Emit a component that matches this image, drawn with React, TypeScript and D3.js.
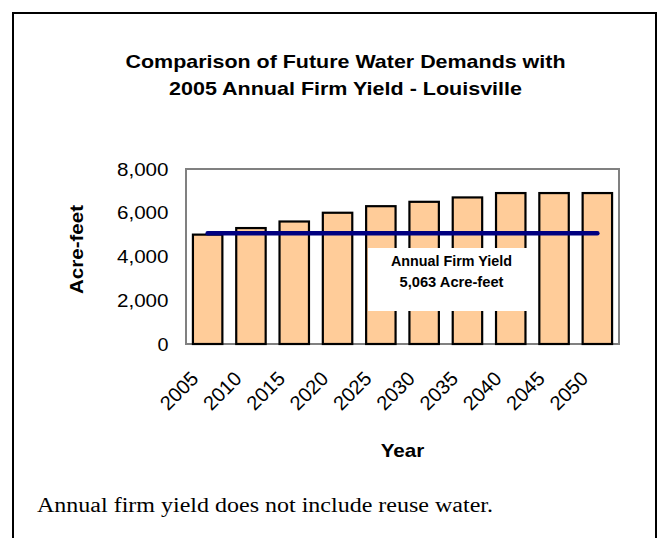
import React from "react";
import * as d3 from "d3";

const years = ["2005", "2010", "2015", "2020", "2025", "2030", "2035", "2040", "2045", "2050"];
const demands = [5000, 5300, 5600, 6000, 6300, 6500, 6700, 6900, 6900, 6900];
const firmYield = 5063;
const yTicks = [0, 2000, 4000, 6000, 8000];
const titleLines = ["Comparison of Future Water Demands with", "2005 Annual Firm Yield - Louisville"];
const yieldLabel = ["Annual Firm Yield", "5,063 Acre-feet"];
const footnote = "Annual firm yield does not include reuse water.";

export default function App() {
  const W = 659, H = 538;
  const plot = { left: 186, right: 619, top: 169, bottom: 344 };
  const x = d3.scaleBand<string>().domain(years).range([plot.left, plot.right]).paddingInner(0.32).paddingOuter(0.16);
  const y = d3.scaleLinear().domain([0, 8000]).range([plot.bottom, plot.top]);
  const fmt = d3.format(",");
  const lineGen = d3.line<string>().x((d) => (x(d) as number) + x.bandwidth() / 2).y(() => y(firmYield));
  const arial = "'Liberation Sans', Arial, sans-serif";
  return (
    <svg width={W} height={H} style={{ position: "absolute", left: 0, top: 0, background: "#fff" }}>
      <rect x={0} y={0} width={W} height={H} fill="#fff" />
      <rect x={13} y={13} width={643} height={540} fill="none" stroke="#000" strokeWidth={2} />
      {titleLines.map((t, i) => (
        <text key={t} x={345.5} y={67.5 + i * 27.7} textAnchor="middle" fontFamily={arial} fontWeight="bold" fontSize={19} textLength={i === 0 ? 440 : 353} lengthAdjust="spacingAndGlyphs">{t}</text>
      ))}
      <rect x={plot.left} y={plot.top} width={plot.right - plot.left} height={plot.bottom - plot.top} fill="#fff" stroke="#808080" strokeWidth={2} />
      {years.map((yr, i) => (
        <rect key={yr} x={x(yr)} y={y(demands[i])} width={x.bandwidth()} height={y(0) - y(demands[i])} fill="#FFCC99" stroke="#000" strokeWidth={2.2} />
      ))}
      <path d={lineGen(years) || ""} stroke="#000080" strokeWidth={4.5} strokeLinecap="round" fill="none" />
      <rect x={368} y={248} width={160} height={63} fill="#fff" />
      {yieldLabel.map((t, i) => (
        <text key={t} x={451.5} y={266 + i * 20.7} textAnchor="middle" fontFamily={arial} fontWeight="bold" fontSize={14} textLength={i === 0 ? 121 : 104} lengthAdjust="spacingAndGlyphs">{t}</text>
      ))}
      {yTicks.map((v) => (
        <text key={v} x={168.5} y={y(v) + 6.5} textAnchor="end" fontFamily={arial} fontSize={19} textLength={v === 0 ? 11 : 51.5} lengthAdjust="spacingAndGlyphs">{fmt(v)}</text>
      ))}
      <text transform={`translate(83.3,249.5) rotate(-90)`} textAnchor="middle" fontFamily={arial} fontWeight="bold" fontSize={19} textLength={89} lengthAdjust="spacingAndGlyphs">Acre-feet</text>
      {years.map((yr) => {
        const cx = (x(yr) as number) + x.bandwidth() / 2;
        return (
          <text key={yr} transform={`translate(${cx - 8},380) rotate(-45)`} textAnchor="end" fontFamily={arial} fontSize={20}>{yr}</text>
        );
      })}
      <text x={402.5} y={457.3} textAnchor="middle" fontFamily={arial} fontWeight="bold" fontSize={19} textLength={43.6} lengthAdjust="spacingAndGlyphs">Year</text>
      <text x={37} y={512.3} fontFamily="'Liberation Serif', 'Times New Roman', serif" fontSize={20} textLength={456} lengthAdjust="spacingAndGlyphs">{footnote}</text>
    </svg>
  );
}
